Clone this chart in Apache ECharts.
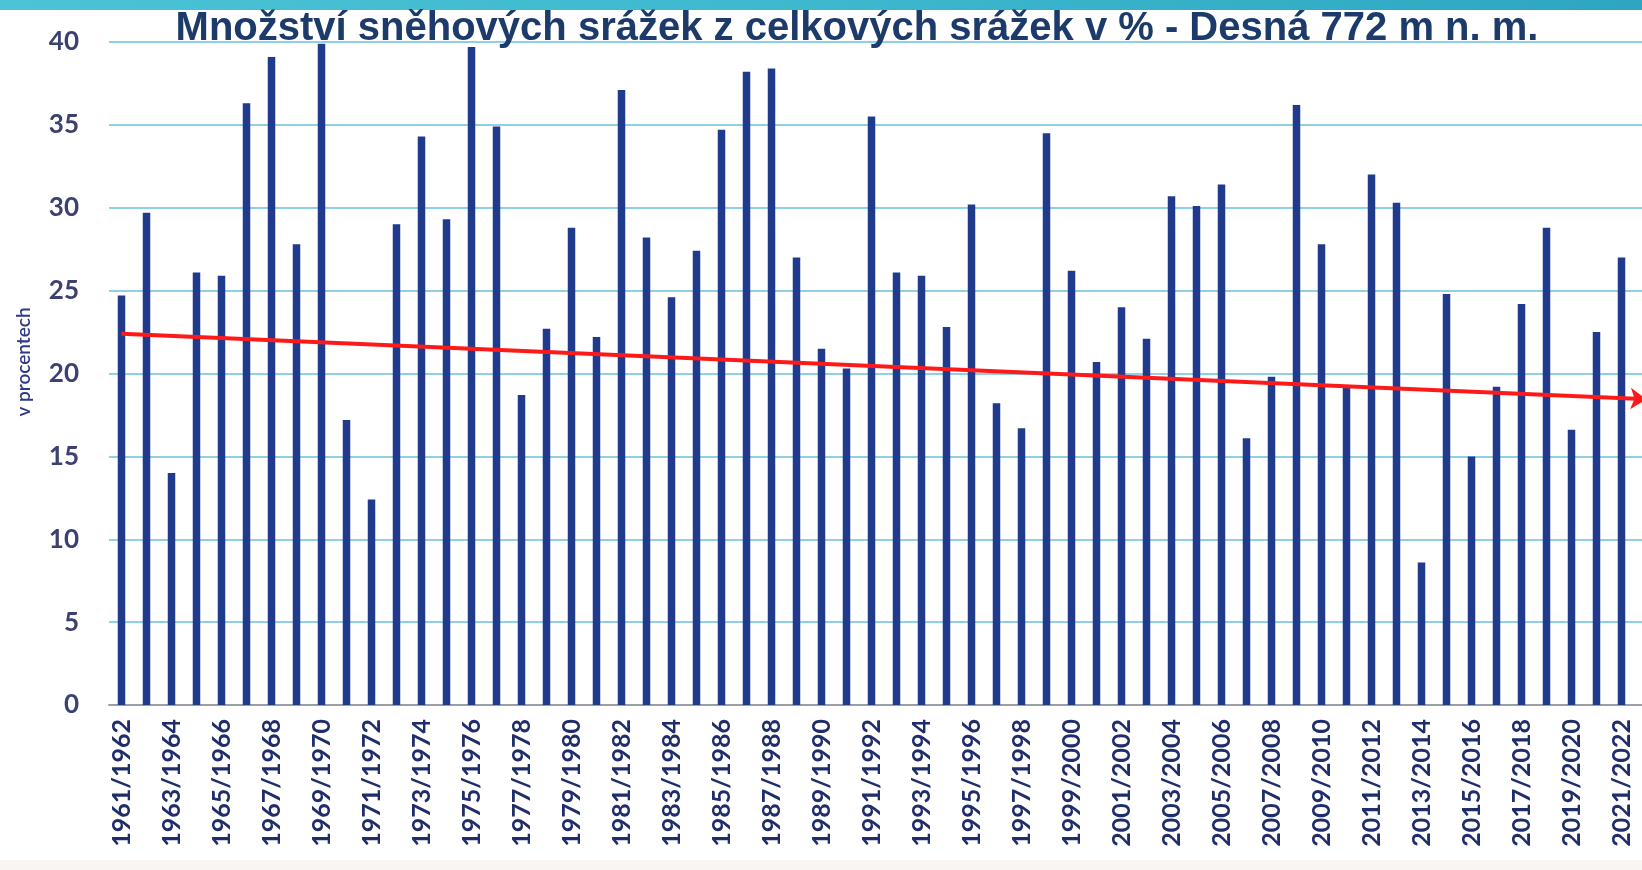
<!DOCTYPE html>
<html>
<head>
<meta charset="utf-8">
<script src="https://cdn.jsdelivr.net/npm/echarts@6/dist/echarts.min.js"></script>
<style>
  html, body { margin: 0; padding: 0; background: #ffffff; }
  #chart { width: 1642px; height: 870px; }
</style>
</head>
<body>
<div id="chart"></div>
<script>
// zimni sezony (posledni sloupec je v obrazku oriznuty okrajem)
var seasons = [
  '1961/1962', '1962/1963', '1963/1964', '1964/1965', '1965/1966', '1966/1967', '1967/1968', '1968/1969',
  '1969/1970', '1970/1971', '1971/1972', '1972/1973', '1973/1974', '1974/1975', '1975/1976', '1976/1977',
  '1977/1978', '1978/1979', '1979/1980', '1980/1981', '1981/1982', '1982/1983', '1983/1984', '1984/1985',
  '1985/1986', '1986/1987', '1987/1988', '1988/1989', '1989/1990', '1990/1991', '1991/1992', '1992/1993',
  '1993/1994', '1994/1995', '1995/1996', '1996/1997', '1997/1998', '1998/1999', '1999/2000', '2000/2001',
  '2001/2002', '2002/2003', '2003/2004', '2004/2005', '2005/2006', '2006/2007', '2007/2008', '2008/2009',
  '2009/2010', '2010/2011', '2011/2012', '2012/2013', '2013/2014', '2014/2015', '2015/2016', '2016/2017',
  '2017/2018', '2018/2019', '2019/2020', '2020/2021', '2021/2022', '2022/2023'
];

// podil snehovych srazek v %
var snowShare = [
  24.7, 29.7, 14.0, 26.1, 25.9, 36.3, 39.1, 27.8,
  39.9, 17.2, 12.4, 29.0, 34.3, 29.3, 39.7, 34.9,
  18.7, 22.7, 28.8, 22.2, 37.1, 28.2, 24.6, 27.4,
  34.7, 38.2, 38.4, 27.0, 21.5, 20.3, 35.5, 26.1,
  25.9, 22.8, 30.2, 18.2, 16.7, 34.5, 26.2, 20.7,
  24.0, 22.1, 30.7, 30.1, 31.4, 16.1, 19.8, 36.2,
  27.8, 19.2, 32.0, 30.3, 8.6, 24.8, 15.0, 19.2,
  24.2, 28.8, 16.6, 22.5, 27.0, 16.4
];

// linearni trend
var trendStart = 22.4;
var trendEnd = 18.45;

var yTicks = { min: 0, max: 40, interval: 5 };

var chart = echarts.init(document.getElementById('chart'), null, { renderer: 'canvas' });

var option = {
  backgroundColor: '#ffffff',
  animation: false,
  graphic: [
    {
      type: 'rect',
      left: 0, top: 0,
      shape: { width: 1642, height: 10 },
      style: {
        fill: new echarts.graphic.LinearGradient(0, 0, 1, 0, [
          { offset: 0, color: '#4cc3d6' },
          { offset: 0.5, color: '#3db8cf' },
          { offset: 1, color: '#2ea6c2' }
        ])
      },
      z: 10
    },
    {
      type: 'rect',
      left: 0, top: 860,
      shape: { width: 1642, height: 10 },
      style: { fill: '#f8f5f2' },
      z: -1
    },
    {
      type: 'text',
      x: 857, y: 29,
      style: {
        text: 'Množství sněhových srážek z celkových srážek v % - Desná 772 m n. m.',
        fontFamily: 'Liberation Sans',
        fontWeight: 'bold',
        fontSize: 40,
        fill: '#1d3b6a',
        align: 'center',
        verticalAlign: 'middle'
      },
      z: 20
    },
    {
      type: 'text',
      x: 24, y: 362,
      rotation: Math.PI / 2,
      style: {
        text: 'v procentech',
        fontFamily: 'Lato',
        fontWeight: 600,
        fontSize: 19,
        fill: '#2e3a86',
        align: 'center',
        verticalAlign: 'middle'
      }
    }
  ],
  grid: {
    left: 109,
    top: 42,
    bottom: 165,
    width: 1550,
    outerBoundsMode: 'none'
  },
  xAxis: {
    type: 'category',
    data: seasons,
    boundaryGap: true,
    axisLine: { show: true, lineStyle: { color: '#9a9fa6', width: 2 } },
    axisTick: { show: false },
    axisLabel: {
      interval: 1,
      rotate: 90,
      margin: 14,
      fontFamily: 'Lato',
      fontWeight: 'bold',
      fontSize: 25,
      color: '#1f2d6b'
    },
    splitLine: { show: false }
  },
  yAxis: {
    type: 'value',
    min: yTicks.min,
    max: yTicks.max,
    interval: yTicks.interval,
    axisLine: { show: false },
    axisTick: { show: false },
    axisLabel: {
      margin: 30,
      fontFamily: 'Lato',
      fontWeight: 'bold',
      fontSize: 26,
      color: '#3b4272'
    },
    splitLine: { lineStyle: { color: '#8fd0e6', width: 2 } }
  },
  series: [
    {
      type: 'bar',
      data: snowShare,
      barWidth: 7.5,
      itemStyle: { color: '#203a8c' },
      markLine: {
        silent: true,
        animation: false,
        label: { show: false },
        lineStyle: { color: '#ff1a1a', width: 4, type: 'solid' },
        symbol: ['none', 'arrow'],
        symbolSize: 16,
        data: [
          [
            { coord: [seasons[0], trendStart] },
            { coord: [seasons[seasons.length - 1], trendEnd] }
          ]
        ]
      }
    }
  ]
};

chart.setOption(option);
</script>
</body>
</html>
